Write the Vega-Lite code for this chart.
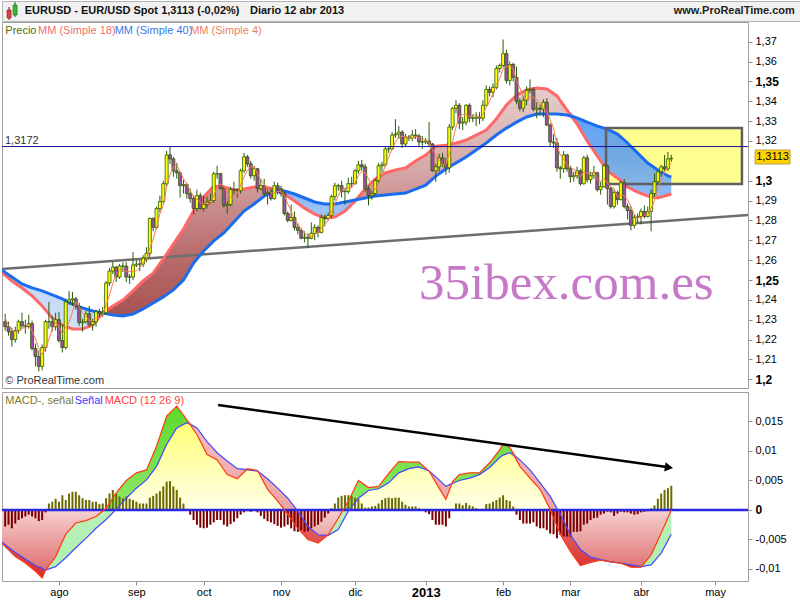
{
"$schema": "https://vega.github.io/schema/vega-lite/v6.json",
"padding": 0,
"background": "white",
"spacing": 1,
"bounds": "flush",
"config": {"font": "Liberation Sans", "view": {"stroke": "#a0a0a0"}, "axis": {"labelOverlap": false, "labelBound": false}},
"datasets": {
"c": [
{"i":-16,"o":1.2290,"h":1.2330,"l":1.2245,"c":1.2265,"m4":1.2309,"hs":-0.0028},
{"i":-15,"o":1.2265,"h":1.2290,"l":1.2220,"c":1.2240,"m4":1.2271,"hs":-0.0025},
{"i":-14,"o":1.2240,"h":1.2260,"l":1.2165,"c":1.2200,"m4":1.2249,"hs":-0.0031},
{"i":-13,"o":1.2200,"h":1.2265,"l":1.2185,"c":1.2245,"m4":1.2238,"hs":-0.0023},
{"i":-12,"o":1.2245,"h":1.2300,"l":1.2230,"c":1.2290,"m4":1.2244,"hs":-0.0017},
{"i":-11,"o":1.2290,"h":1.2335,"l":1.2255,"c":1.2270,"m4":1.2251,"hs":-0.0014},
{"i":-10,"o":1.2270,"h":1.2300,"l":1.2230,"c":1.2265,"m4":1.2268,"hs":-0.0011},
{"i":-9,"o":1.2265,"h":1.2325,"l":1.2255,"c":1.2280,"m4":1.2276,"hs":-0.0008},
{"i":-8,"o":1.2280,"h":1.2295,"l":1.2145,"c":1.2155,"m4":1.2243,"hs":-0.0011},
{"i":-7,"o":1.2155,"h":1.2180,"l":1.2065,"c":1.2115,"m4":1.2204,"hs":-0.0014},
{"i":-6,"o":1.2115,"h":1.2145,"l":1.2040,"c":1.2065,"m4":1.2154,"hs":-0.0019},
{"i":-5,"o":1.2065,"h":1.2175,"l":1.2045,"c":1.2160,"m4":1.2124,"hs":-0.0017},
{"i":-4,"o":1.2160,"h":1.2300,"l":1.2140,"c":1.2290,"m4":1.2158,"hs":-0.0004},
{"i":-3,"o":1.2290,"h":1.2390,"l":1.2255,"c":1.2290,"m4":1.2201,"hs":0.0011},
{"i":-2,"o":1.2290,"h":1.2320,"l":1.2240,"c":1.2265,"m4":1.2251,"hs":0.0014},
{"i":-1,"o":1.2265,"h":1.2335,"l":1.2245,"c":1.2300,"m4":1.2286,"hs":0.0019},
{"i":0,"o":1.2300,"h":1.2340,"l":1.2185,"c":1.2195,"m4":1.2263,"hs":0.0014},
{"i":1,"o":1.2195,"h":1.2275,"l":1.2135,"c":1.2160,"m4":1.2230,"hs":0.0025},
{"i":2,"o":1.2160,"h":1.2405,"l":1.2150,"c":1.2390,"m4":1.2261,"hs":0.0017},
{"i":3,"o":1.2390,"h":1.2445,"l":1.2375,"c":1.2400,"m4":1.2286,"hs":0.0028},
{"i":4,"o":1.2400,"h":1.2440,"l":1.2370,"c":1.2405,"m4":1.2339,"hs":0.0031},
{"i":5,"o":1.2405,"h":1.2415,"l":1.2350,"c":1.2365,"m4":1.2390,"hs":0.0031},
{"i":6,"o":1.2365,"h":1.2385,"l":1.2270,"c":1.2285,"m4":1.2364,"hs":0.0025},
{"i":7,"o":1.2285,"h":1.2305,"l":1.2240,"c":1.2290,"m4":1.2336,"hs":0.0020},
{"i":8,"o":1.2290,"h":1.2345,"l":1.2280,"c":1.2330,"m4":1.2318,"hs":0.0017},
{"i":9,"o":1.2330,"h":1.2370,"l":1.2265,"c":1.2275,"m4":1.2295,"hs":0.0017},
{"i":10,"o":1.2275,"h":1.2305,"l":1.2245,"c":1.2290,"m4":1.2296,"hs":0.0014},
{"i":11,"o":1.2290,"h":1.2350,"l":1.2265,"c":1.2340,"m4":1.2309,"hs":0.0014},
{"i":12,"o":1.2340,"h":1.2355,"l":1.2310,"c":1.2330,"m4":1.2309,"hs":0.0010},
{"i":13,"o":1.2330,"h":1.2365,"l":1.2315,"c":1.2335,"m4":1.2324,"hs":0.0011},
{"i":14,"o":1.2335,"h":1.2495,"l":1.2325,"c":1.2485,"m4":1.2373,"hs":0.0020},
{"i":15,"o":1.2485,"h":1.2560,"l":1.2470,"c":1.2545,"m4":1.2424,"hs":0.0028},
{"i":16,"o":1.2545,"h":1.2590,"l":1.2530,"c":1.2565,"m4":1.2483,"hs":0.0034},
{"i":17,"o":1.2565,"h":1.2570,"l":1.2490,"c":1.2515,"m4":1.2528,"hs":0.0028},
{"i":18,"o":1.2515,"h":1.2580,"l":1.2505,"c":1.2570,"m4":1.2549,"hs":0.0023},
{"i":19,"o":1.2570,"h":1.2590,"l":1.2540,"c":1.2570,"m4":1.2555,"hs":0.0020},
{"i":20,"o":1.2570,"h":1.2590,"l":1.2490,"c":1.2515,"m4":1.2543,"hs":0.0023},
{"i":21,"o":1.2515,"h":1.2530,"l":1.2480,"c":1.2515,"m4":1.2543,"hs":0.0019},
{"i":22,"o":1.2515,"h":1.2640,"l":1.2500,"c":1.2575,"m4":1.2544,"hs":0.0017},
{"i":23,"o":1.2575,"h":1.2600,"l":1.2565,"c":1.2580,"m4":1.2546,"hs":0.0014},
{"i":24,"o":1.2580,"h":1.2600,"l":1.2545,"c":1.2580,"m4":1.2563,"hs":0.0011},
{"i":25,"o":1.2580,"h":1.2625,"l":1.2565,"c":1.2610,"m4":1.2586,"hs":0.0011},
{"i":26,"o":1.2610,"h":1.2665,"l":1.2590,"c":1.2635,"m4":1.2601,"hs":0.0011},
{"i":27,"o":1.2635,"h":1.2815,"l":1.2615,"c":1.2810,"m4":1.2659,"hs":0.0021},
{"i":28,"o":1.2810,"h":1.2815,"l":1.2745,"c":1.2765,"m4":1.2705,"hs":0.0024},
{"i":29,"o":1.2765,"h":1.2870,"l":1.2755,"c":1.2860,"m4":1.2768,"hs":0.0028},
{"i":30,"o":1.2860,"h":1.2925,"l":1.2840,"c":1.2895,"m4":1.2833,"hs":0.0032},
{"i":31,"o":1.2895,"h":1.3000,"l":1.2880,"c":1.2985,"m4":1.2876,"hs":0.0040},
{"i":32,"o":1.2985,"h":1.3150,"l":1.2975,"c":1.3130,"m4":1.2968,"hs":0.0048},
{"i":33,"o":1.3130,"h":1.3172,"l":1.3085,"c":1.3110,"m4":1.3030,"hs":0.0049},
{"i":34,"o":1.3110,"h":1.3120,"l":1.3020,"c":1.3050,"m4":1.3069,"hs":0.0040},
{"i":35,"o":1.3050,"h":1.3090,"l":1.3010,"c":1.3040,"m4":1.3083,"hs":0.0034},
{"i":36,"o":1.3040,"h":1.3045,"l":1.2915,"c":1.2975,"m4":1.3044,"hs":0.0021},
{"i":37,"o":1.2975,"h":1.3005,"l":1.2935,"c":1.2980,"m4":1.3011,"hs":0.0011},
{"i":38,"o":1.2980,"h":1.2990,"l":1.2910,"c":1.2935,"m4":1.2983,"hs":0.0002},
{"i":39,"o":1.2935,"h":1.2960,"l":1.2890,"c":1.2910,"m4":1.2950,"hs":-0.0008},
{"i":40,"o":1.2910,"h":1.2925,"l":1.2830,"c":1.2860,"m4":1.2921,"hs":-0.0017},
{"i":41,"o":1.2860,"h":1.2955,"l":1.2845,"c":1.2925,"m4":1.2908,"hs":-0.0025},
{"i":42,"o":1.2925,"h":1.2940,"l":1.2855,"c":1.2860,"m4":1.2889,"hs":-0.0030},
{"i":43,"o":1.2860,"h":1.2925,"l":1.2845,"c":1.2880,"m4":1.2881,"hs":-0.0031},
{"i":44,"o":1.2880,"h":1.2920,"l":1.2860,"c":1.2890,"m4":1.2889,"hs":-0.0030},
{"i":45,"o":1.2890,"h":1.2935,"l":1.2880,"c":1.2900,"m4":1.2883,"hs":-0.0025},
{"i":46,"o":1.2900,"h":1.3045,"l":1.2890,"c":1.3035,"m4":1.2926,"hs":-0.0021},
{"i":47,"o":1.3035,"h":1.3075,"l":1.3010,"c":1.3035,"m4":1.2965,"hs":-0.0017},
{"i":48,"o":1.3035,"h":1.3040,"l":1.2955,"c":1.2960,"m4":1.2983,"hs":-0.0017},
{"i":49,"o":1.2960,"h":1.2970,"l":1.2865,"c":1.2875,"m4":1.2976,"hs":-0.0025},
{"i":50,"o":1.2875,"h":1.2895,"l":1.2835,"c":1.2880,"m4":1.2938,"hs":-0.0028},
{"i":51,"o":1.2880,"h":1.2970,"l":1.2870,"c":1.2955,"m4":1.2918,"hs":-0.0024},
{"i":52,"o":1.2955,"h":1.2995,"l":1.2930,"c":1.2955,"m4":1.2916,"hs":-0.0020},
{"i":53,"o":1.2955,"h":1.2960,"l":1.2915,"c":1.2950,"m4":1.2935,"hs":-0.0014},
{"i":54,"o":1.2950,"h":1.3060,"l":1.2935,"c":1.3050,"m4":1.2978,"hs":-0.0008},
{"i":55,"o":1.3050,"h":1.3140,"l":1.3040,"c":1.3120,"m4":1.3019,"hs":-0.0004},
{"i":56,"o":1.3120,"h":1.3130,"l":1.3070,"c":1.3085,"m4":1.3051,"hs":-0.0002},
{"i":57,"o":1.3085,"h":1.3100,"l":1.3010,"c":1.3025,"m4":1.3070,"hs":-0.0003},
{"i":58,"o":1.3025,"h":1.3075,"l":1.3000,"c":1.3060,"m4":1.3073,"hs":0.0000},
{"i":59,"o":1.3060,"h":1.3065,"l":1.2940,"c":1.2960,"m4":1.3033,"hs":-0.0004},
{"i":60,"o":1.2960,"h":1.3010,"l":1.2950,"c":1.2975,"m4":1.3005,"hs":-0.0010},
{"i":61,"o":1.2975,"h":1.3010,"l":1.2925,"c":1.2935,"m4":1.2983,"hs":-0.0015},
{"i":62,"o":1.2935,"h":1.2960,"l":1.2880,"c":1.2940,"m4":1.2953,"hs":-0.0019},
{"i":63,"o":1.2940,"h":1.2960,"l":1.2900,"c":1.2910,"m4":1.2940,"hs":-0.0021},
{"i":64,"o":1.2910,"h":1.2995,"l":1.2905,"c":1.2975,"m4":1.2940,"hs":-0.0024},
{"i":65,"o":1.2975,"h":1.2990,"l":1.2930,"c":1.2960,"m4":1.2946,"hs":-0.0027},
{"i":66,"o":1.2960,"h":1.2975,"l":1.2920,"c":1.2935,"m4":1.2945,"hs":-0.0030},
{"i":67,"o":1.2935,"h":1.2945,"l":1.2825,"c":1.2835,"m4":1.2926,"hs":-0.0028},
{"i":68,"o":1.2835,"h":1.2845,"l":1.2790,"c":1.2800,"m4":1.2883,"hs":-0.0025},
{"i":69,"o":1.2800,"h":1.2880,"l":1.2795,"c":1.2815,"m4":1.2846,"hs":-0.0031},
{"i":70,"o":1.2815,"h":1.2845,"l":1.2750,"c":1.2765,"m4":1.2804,"hs":-0.0036},
{"i":71,"o":1.2765,"h":1.2785,"l":1.2730,"c":1.2750,"m4":1.2783,"hs":-0.0037},
{"i":72,"o":1.2750,"h":1.2760,"l":1.2705,"c":1.2710,"m4":1.2760,"hs":-0.0034},
{"i":73,"o":1.2710,"h":1.2745,"l":1.2690,"c":1.2715,"m4":1.2735,"hs":-0.0037},
{"i":74,"o":1.2715,"h":1.2735,"l":1.2660,"c":1.2710,"m4":1.2721,"hs":-0.0036},
{"i":75,"o":1.2710,"h":1.2790,"l":1.2705,"c":1.2735,"m4":1.2718,"hs":-0.0031},
{"i":76,"o":1.2735,"h":1.2780,"l":1.2700,"c":1.2765,"m4":1.2731,"hs":-0.0028},
{"i":77,"o":1.2765,"h":1.2775,"l":1.2715,"c":1.2740,"m4":1.2738,"hs":-0.0025},
{"i":78,"o":1.2740,"h":1.2830,"l":1.2735,"c":1.2815,"m4":1.2764,"hs":-0.0020},
{"i":79,"o":1.2815,"h":1.2830,"l":1.2770,"c":1.2810,"m4":1.2783,"hs":-0.0013},
{"i":80,"o":1.2810,"h":1.2840,"l":1.2800,"c":1.2825,"m4":1.2798,"hs":-0.0006},
{"i":81,"o":1.2825,"h":1.2930,"l":1.2810,"c":1.2920,"m4":1.2843,"hs":0.0003},
{"i":82,"o":1.2920,"h":1.2990,"l":1.2900,"c":1.2975,"m4":1.2883,"hs":0.0011},
{"i":83,"o":1.2975,"h":1.2985,"l":1.2950,"c":1.2975,"m4":1.2924,"hs":0.0021},
{"i":84,"o":1.2975,"h":1.3000,"l":1.2915,"c":1.2945,"m4":1.2954,"hs":0.0024},
{"i":85,"o":1.2945,"h":1.2965,"l":1.2880,"c":1.2945,"m4":1.2960,"hs":0.0025},
{"i":86,"o":1.2945,"h":1.3015,"l":1.2935,"c":1.2985,"m4":1.2963,"hs":0.0025},
{"i":87,"o":1.2985,"h":1.3020,"l":1.2965,"c":1.2985,"m4":1.2965,"hs":0.0024},
{"i":88,"o":1.2985,"h":1.3060,"l":1.2980,"c":1.3050,"m4":1.2991,"hs":0.0021},
{"i":89,"o":1.3050,"h":1.3100,"l":1.3035,"c":1.3080,"m4":1.3025,"hs":0.0019},
{"i":90,"o":1.3080,"h":1.3105,"l":1.3050,"c":1.3070,"m4":1.3046,"hs":0.0011},
{"i":91,"o":1.3070,"h":1.3085,"l":1.2945,"c":1.2960,"m4":1.3040,"hs":0.0004},
{"i":92,"o":1.2960,"h":1.2975,"l":1.2875,"c":1.2925,"m4":1.3009,"hs":0.0004},
{"i":93,"o":1.2925,"h":1.2950,"l":1.2905,"c":1.2935,"m4":1.2973,"hs":0.0006},
{"i":94,"o":1.2935,"h":1.3010,"l":1.2925,"c":1.3000,"m4":1.2955,"hs":0.0007},
{"i":95,"o":1.3000,"h":1.3090,"l":1.2990,"c":1.3075,"m4":1.2984,"hs":0.0011},
{"i":96,"o":1.3075,"h":1.3095,"l":1.3040,"c":1.3080,"m4":1.3023,"hs":0.0017},
{"i":97,"o":1.3080,"h":1.3170,"l":1.3070,"c":1.3160,"m4":1.3079,"hs":0.0020},
{"i":98,"o":1.3160,"h":1.3175,"l":1.3140,"c":1.3160,"m4":1.3119,"hs":0.0021},
{"i":99,"o":1.3160,"h":1.3245,"l":1.3155,"c":1.3230,"m4":1.3158,"hs":0.0020},
{"i":100,"o":1.3230,"h":1.3310,"l":1.3215,"c":1.3235,"m4":1.3196,"hs":0.0021},
{"i":101,"o":1.3235,"h":1.3275,"l":1.3210,"c":1.3245,"m4":1.3218,"hs":0.0021},
{"i":102,"o":1.3245,"h":1.3255,"l":1.3165,"c":1.3185,"m4":1.3224,"hs":0.0014},
{"i":103,"o":1.3185,"h":1.3235,"l":1.3175,"c":1.3220,"m4":1.3221,"hs":0.0009},
{"i":104,"o":1.3220,"h":1.3230,"l":1.3200,"c":1.3215,"m4":1.3216,"hs":0.0006},
{"i":105,"o":1.3215,"h":1.3255,"l":1.3200,"c":1.3230,"m4":1.3213,"hs":0.0006},
{"i":106,"o":1.3230,"h":1.3260,"l":1.3210,"c":1.3225,"m4":1.3223,"hs":0.0006},
{"i":107,"o":1.3225,"h":1.3235,"l":1.3170,"c":1.3195,"m4":1.3216,"hs":0.0003},
{"i":108,"o":1.3195,"h":1.3225,"l":1.3160,"c":1.3195,"m4":1.3211,"hs":0.0000},
{"i":109,"o":1.3195,"h":1.3215,"l":1.3185,"c":1.3200,"m4":1.3204,"hs":-0.0004},
{"i":110,"o":1.3200,"h":1.3295,"l":1.3175,"c":1.3185,"m4":1.3194,"hs":-0.0007},
{"i":111,"o":1.3185,"h":1.3190,"l":1.3045,"c":1.3050,"m4":1.3158,"hs":-0.0017},
{"i":112,"o":1.3050,"h":1.3085,"l":1.2995,"c":1.3070,"m4":1.3126,"hs":-0.0025},
{"i":113,"o":1.3070,"h":1.3135,"l":1.3045,"c":1.3115,"m4":1.3105,"hs":-0.0025},
{"i":114,"o":1.3115,"h":1.3140,"l":1.3070,"c":1.3085,"m4":1.3080,"hs":-0.0025},
{"i":115,"o":1.3085,"h":1.3115,"l":1.3030,"c":1.3065,"m4":1.3084,"hs":-0.0028},
{"i":116,"o":1.3065,"h":1.3285,"l":1.3040,"c":1.3270,"m4":1.3134,"hs":-0.0014},
{"i":117,"o":1.3270,"h":1.3370,"l":1.3255,"c":1.3365,"m4":1.3196,"hs":0.0000},
{"i":118,"o":1.3365,"h":1.3405,"l":1.3340,"c":1.3380,"m4":1.3270,"hs":0.0011},
{"i":119,"o":1.3380,"h":1.3390,"l":1.3260,"c":1.3290,"m4":1.3326,"hs":0.0011},
{"i":120,"o":1.3290,"h":1.3320,"l":1.3255,"c":1.3295,"m4":1.3333,"hs":0.0008},
{"i":121,"o":1.3295,"h":1.3385,"l":1.3280,"c":1.3380,"m4":1.3336,"hs":0.0012},
{"i":122,"o":1.3380,"h":1.3390,"l":1.3295,"c":1.3315,"m4":1.3320,"hs":0.0008},
{"i":123,"o":1.3315,"h":1.3335,"l":1.3295,"c":1.3315,"m4":1.3326,"hs":0.0006},
{"i":124,"o":1.3315,"h":1.3345,"l":1.3275,"c":1.3320,"m4":1.3333,"hs":0.0003},
{"i":125,"o":1.3320,"h":1.3345,"l":1.3285,"c":1.3315,"m4":1.3316,"hs":0.0000},
{"i":126,"o":1.3315,"h":1.3405,"l":1.3300,"c":1.3380,"m4":1.3333,"hs":0.0002},
{"i":127,"o":1.3380,"h":1.3480,"l":1.3375,"c":1.3460,"m4":1.3369,"hs":0.0010},
{"i":128,"o":1.3460,"h":1.3475,"l":1.3425,"c":1.3445,"m4":1.3400,"hs":0.0011},
{"i":129,"o":1.3445,"h":1.3490,"l":1.3420,"c":1.3470,"m4":1.3439,"hs":0.0014},
{"i":130,"o":1.3470,"h":1.3580,"l":1.3460,"c":1.3565,"m4":1.3485,"hs":0.0017},
{"i":131,"o":1.3565,"h":1.3590,"l":1.3545,"c":1.3580,"m4":1.3515,"hs":0.0021},
{"i":132,"o":1.3580,"h":1.3711,"l":1.3570,"c":1.3640,"m4":1.3564,"hs":0.0025},
{"i":133,"o":1.3640,"h":1.3660,"l":1.3490,"c":1.3505,"m4":1.3573,"hs":0.0017},
{"i":134,"o":1.3505,"h":1.3600,"l":1.3480,"c":1.3585,"m4":1.3578,"hs":0.0015},
{"i":135,"o":1.3585,"h":1.3595,"l":1.3500,"c":1.3520,"m4":1.3563,"hs":0.0006},
{"i":136,"o":1.3520,"h":1.3575,"l":1.3385,"c":1.3400,"m4":1.3503,"hs":-0.0008},
{"i":137,"o":1.3400,"h":1.3415,"l":1.3350,"c":1.3365,"m4":1.3468,"hs":-0.0017},
{"i":138,"o":1.3365,"h":1.3425,"l":1.3345,"c":1.3405,"m4":1.3423,"hs":-0.0023},
{"i":139,"o":1.3405,"h":1.3475,"l":1.3380,"c":1.3455,"m4":1.3406,"hs":-0.0023},
{"i":140,"o":1.3455,"h":1.3510,"l":1.3440,"c":1.3460,"m4":1.3421,"hs":-0.0023},
{"i":141,"o":1.3460,"h":1.3470,"l":1.3350,"c":1.3360,"m4":1.3420,"hs":-0.0021},
{"i":142,"o":1.3360,"h":1.3395,"l":1.3315,"c":1.3365,"m4":1.3410,"hs":-0.0028},
{"i":143,"o":1.3365,"h":1.3385,"l":1.3330,"c":1.3360,"m4":1.3386,"hs":-0.0031},
{"i":144,"o":1.3360,"h":1.3410,"l":1.3320,"c":1.3395,"m4":1.3370,"hs":-0.0031},
{"i":145,"o":1.3395,"h":1.3415,"l":1.3275,"c":1.3280,"m4":1.3350,"hs":-0.0034},
{"i":146,"o":1.3280,"h":1.3290,"l":1.3175,"c":1.3195,"m4":1.3308,"hs":-0.0040},
{"i":147,"o":1.3195,"h":1.3235,"l":1.3165,"c":1.3190,"m4":1.3265,"hs":-0.0041},
{"i":148,"o":1.3190,"h":1.3215,"l":1.3045,"c":1.3065,"m4":1.3183,"hs":-0.0048},
{"i":149,"o":1.3065,"h":1.3075,"l":1.3010,"c":1.3060,"m4":1.3128,"hs":-0.0042},
{"i":150,"o":1.3060,"h":1.3150,"l":1.3040,"c":1.3130,"m4":1.3111,"hs":-0.0045},
{"i":151,"o":1.3130,"h":1.3135,"l":1.3045,"c":1.3060,"m4":1.3079,"hs":-0.0045},
{"i":152,"o":1.3060,"h":1.3075,"l":1.2990,"c":1.3020,"m4":1.3068,"hs":-0.0045},
{"i":153,"o":1.3020,"h":1.3045,"l":1.2995,"c":1.3025,"m4":1.3059,"hs":-0.0037},
{"i":154,"o":1.3025,"h":1.3070,"l":1.3010,"c":1.3050,"m4":1.3039,"hs":-0.0037},
{"i":155,"o":1.3050,"h":1.3060,"l":1.2975,"c":1.2985,"m4":1.3020,"hs":-0.0036},
{"i":156,"o":1.2985,"h":1.3125,"l":1.2980,"c":1.3115,"m4":1.3044,"hs":-0.0025},
{"i":157,"o":1.3115,"h":1.3130,"l":1.2990,"c":1.3005,"m4":1.3039,"hs":-0.0023},
{"i":158,"o":1.3005,"h":1.3045,"l":1.2985,"c":1.3025,"m4":1.3033,"hs":-0.0017},
{"i":159,"o":1.3025,"h":1.3075,"l":1.3010,"c":1.3040,"m4":1.3046,"hs":-0.0014},
{"i":160,"o":1.3040,"h":1.3045,"l":1.2945,"c":1.2955,"m4":1.3006,"hs":-0.0013},
{"i":161,"o":1.2955,"h":1.2995,"l":1.2930,"c":1.2970,"m4":1.2998,"hs":-0.0008},
{"i":162,"o":1.2970,"h":1.3085,"l":1.2965,"c":1.3075,"m4":1.3010,"hs":-0.0006},
{"i":163,"o":1.3075,"h":1.3080,"l":1.2880,"c":1.2960,"m4":1.2990,"hs":-0.0003},
{"i":164,"o":1.2960,"h":1.2970,"l":1.2860,"c":1.2870,"m4":1.2969,"hs":-0.0004},
{"i":165,"o":1.2870,"h":1.2955,"l":1.2860,"c":1.2940,"m4":1.2961,"hs":-0.0010},
{"i":166,"o":1.2940,"h":1.2950,"l":1.2880,"c":1.2905,"m4":1.2919,"hs":-0.0006},
{"i":167,"o":1.2905,"h":1.3000,"l":1.2900,"c":1.2990,"m4":1.2926,"hs":-0.0003},
{"i":168,"o":1.2990,"h":1.3010,"l":1.2860,"c":1.2870,"m4":1.2926,"hs":-0.0004},
{"i":169,"o":1.2870,"h":1.2885,"l":1.2805,"c":1.2850,"m4":1.2904,"hs":-0.0004},
{"i":170,"o":1.2850,"h":1.2870,"l":1.2750,"c":1.2775,"m4":1.2871,"hs":-0.0006},
{"i":171,"o":1.2775,"h":1.2830,"l":1.2760,"c":1.2815,"m4":1.2828,"hs":-0.0008},
{"i":172,"o":1.2815,"h":1.2835,"l":1.2790,"c":1.2820,"m4":1.2815,"hs":-0.0007},
{"i":173,"o":1.2820,"h":1.2860,"l":1.2780,"c":1.2845,"m4":1.2814,"hs":-0.0004},
{"i":174,"o":1.2845,"h":1.2875,"l":1.2810,"c":1.2820,"m4":1.2825,"hs":-0.0003},
{"i":175,"o":1.2820,"h":1.2870,"l":1.2815,"c":1.2845,"m4":1.2833,"hs":-0.0002},
{"i":176,"o":1.2845,"h":1.2955,"l":1.2745,"c":1.2935,"m4":1.2861,"hs":0.0003},
{"i":177,"o":1.2935,"h":1.3035,"l":1.2920,"c":1.2995,"m4":1.2899,"hs":0.0008},
{"i":178,"o":1.2995,"h":1.3050,"l":1.2985,"c":1.3045,"m4":1.2955,"hs":0.0019},
{"i":179,"o":1.3045,"h":1.3080,"l":1.3020,"c":1.3070,"m4":1.3011,"hs":0.0028},
{"i":180,"o":1.3070,"h":1.3130,"l":1.3050,"c":1.3060,"m4":1.3043,"hs":0.0034},
{"i":181,"o":1.3060,"h":1.3145,"l":1.3050,"c":1.3110,"m4":1.3071,"hs":0.0037},
{"i":182,"o":1.3110,"h":1.3130,"l":1.3095,"c":1.3113,"m4":1.3088,"hs":0.0041}
],
"ma": [
{"i":-17,"a":1.2539,"b":1.2550},{"i":-14,"a":1.2495,"b":1.2515},{"i":-11,"a":1.2460,"b":1.2480},{"i":-8,"a":1.2420,"b":1.2460},
{"i":-5,"a":1.2369,"b":1.2445},{"i":-2,"a":1.2309,"b":1.2425},{"i":1,"a":1.2274,"b":1.2405},{"i":4,"a":1.2253,"b":1.2379},
{"i":7,"a":1.2253,"b":1.2359},{"i":10,"a":1.2274,"b":1.2344},{"i":13,"a":1.2334,"b":1.2334},{"i":16,"a":1.2369,"b":1.2324},
{"i":19,"a":1.2399,"b":1.2319},{"i":22,"a":1.2445,"b":1.2329},{"i":25,"a":1.2495,"b":1.2354},{"i":28,"a":1.2535,"b":1.2384},
{"i":31,"a":1.2606,"b":1.2414},{"i":34,"a":1.2681,"b":1.2450},{"i":37,"a":1.2757,"b":1.2500},{"i":40,"a":1.2847,"b":1.2586},
{"i":43,"a":1.2918,"b":1.2646},{"i":46,"a":1.2973,"b":1.2697},{"i":49,"a":1.2968,"b":1.2737},{"i":52,"a":1.2953,"b":1.2792},
{"i":55,"a":1.2958,"b":1.2847},{"i":58,"a":1.2968,"b":1.2883},{"i":61,"a":1.2968,"b":1.2923},{"i":64,"a":1.2958,"b":1.2948},
{"i":67,"a":1.2933,"b":1.2948},{"i":70,"a":1.2898,"b":1.2933},{"i":73,"a":1.2862,"b":1.2913},{"i":76,"a":1.2832,"b":1.2893},
{"i":79,"a":1.2812,"b":1.2883},{"i":82,"a":1.2817,"b":1.2883},{"i":85,"a":1.2847,"b":1.2893},{"i":88,"a":1.2898,"b":1.2903},
{"i":91,"a":1.2958,"b":1.2913},{"i":94,"a":1.3009,"b":1.2923},{"i":97,"a":1.3039,"b":1.2928},{"i":100,"a":1.3054,"b":1.2933},
{"i":103,"a":1.3064,"b":1.2938},{"i":106,"a":1.3099,"b":1.2958},{"i":109,"a":1.3129,"b":1.2978},{"i":112,"a":1.3174,"b":1.3023},
{"i":115,"a":1.3179,"b":1.3059},{"i":118,"a":1.3189,"b":1.3089},{"i":121,"a":1.3205,"b":1.3119},{"i":124,"a":1.3230,"b":1.3155},
{"i":127,"a":1.3255,"b":1.3190},{"i":130,"a":1.3311,"b":1.3230},{"i":133,"a":1.3381,"b":1.3265},{"i":136,"a":1.3431,"b":1.3295},
{"i":139,"a":1.3457,"b":1.3321},{"i":142,"a":1.3467,"b":1.3336},{"i":145,"a":1.3462,"b":1.3336},{"i":148,"a":1.3427,"b":1.3336},
{"i":151,"a":1.3356,"b":1.3331},{"i":154,"a":1.3286,"b":1.3316},{"i":157,"a":1.3200,"b":1.3295},{"i":160,"a":1.3125,"b":1.3275},
{"i":163,"a":1.3049,"b":1.3260},{"i":166,"a":1.3014,"b":1.3235},{"i":169,"a":1.2968,"b":1.3190},{"i":172,"a":1.2943,"b":1.3139},
{"i":175,"a":1.2923,"b":1.3089},{"i":178,"a":1.2913,"b":1.3054},{"i":181,"a":1.2928,"b":1.3024},{"i":182,"a":1.2933,"b":1.3019}
],
"md": [
{"i":-17,"m":-0.0056,"s":-0.0054},{"i":-16,"m":-0.0062,"s":-0.0059},{"i":-13,"m":-0.0079,"s":-0.0072},{"i":-10,"m":-0.0090,"s":-0.0083},
{"i":-7,"m":-0.0104,"s":-0.0094},{"i":-5,"m":-0.0115,"s":-0.0099},{"i":-4,"m":-0.0102,"s":-0.0102},{"i":-1,"m":-0.0079,"s":-0.0096},
{"i":2,"m":-0.0041,"s":-0.0081},{"i":5,"m":-0.0022,"s":-0.0064},{"i":8,"m":-0.0018,"s":-0.0048},{"i":11,"m":-0.0011,"s":-0.0031},
{"i":14,"m":0.0003,"s":-0.0016},{"i":17,"m":0.0029,"s":0.0001},{"i":20,"m":0.0050,"s":0.0020},{"i":23,"m":0.0063,"s":0.0037},
{"i":26,"m":0.0068,"s":0.0051},{"i":29,"m":0.0108,"s":0.0074},{"i":32,"m":0.0159,"s":0.0111},{"i":35,"m":0.0176,"s":0.0139},
{"i":38,"m":0.0153,"s":0.0148},{"i":41,"m":0.0128,"s":0.0139},{"i":44,"m":0.0094,"s":0.0116},{"i":47,"m":0.0085,"s":0.0097},
{"i":50,"m":0.0060,"s":0.0083},{"i":53,"m":0.0053,"s":0.0070},{"i":56,"m":0.0070,"s":0.0068},{"i":59,"m":0.0067,"s":0.0066},
{"i":62,"m":0.0035,"s":0.0053},{"i":65,"m":0.0015,"s":0.0037},{"i":68,"m":-0.0007,"s":0.0020},{"i":71,"m":-0.0031,"s":-0.0002},
{"i":74,"m":-0.0050,"s":-0.0028},{"i":77,"m":-0.0056,"s":-0.0042},{"i":80,"m":-0.0042,"s":-0.0043},{"i":83,"m":-0.0014,"s":-0.0033},
{"i":86,"m":0.0015,"s":-0.0002},{"i":89,"m":0.0050,"s":0.0020},{"i":92,"m":0.0038,"s":0.0033},{"i":95,"m":0.0040,"s":0.0036},
{"i":98,"m":0.0062,"s":0.0046},{"i":101,"m":0.0082,"s":0.0063},{"i":104,"m":0.0081,"s":0.0070},{"i":107,"m":0.0081,"s":0.0073},
{"i":110,"m":0.0066,"s":0.0066},{"i":113,"m":0.0037,"s":0.0051},{"i":115,"m":0.0018,"s":0.0040},{"i":117,"m":0.0048,"s":0.0045},
{"i":119,"m":0.0060,"s":0.0050},{"i":122,"m":0.0063,"s":0.0054},{"i":125,"m":0.0063,"s":0.0060},{"i":128,"m":0.0080,"s":0.0072},
{"i":131,"m":0.0102,"s":0.0089},{"i":132,"m":0.0112,"s":0.0093},{"i":134,"m":0.0106,"s":0.0097},{"i":137,"m":0.0074,"s":0.0085},
{"i":140,"m":0.0054,"s":0.0068},{"i":143,"m":0.0035,"s":0.0046},{"i":146,"m":0.0001,"s":0.0023},{"i":149,"m":-0.0041,"s":-0.0007},
{"i":152,"m":-0.0070,"s":-0.0042},{"i":155,"m":-0.0094,"s":-0.0067},{"i":158,"m":-0.0089,"s":-0.0080},{"i":161,"m":-0.0085,"s":-0.0084},
{"i":164,"m":-0.0088,"s":-0.0088},{"i":167,"m":-0.0090,"s":-0.0090},{"i":170,"m":-0.0097,"s":-0.0093},{"i":173,"m":-0.0097,"s":-0.0096},
{"i":176,"m":-0.0076,"s":-0.0093},{"i":179,"m":-0.0039,"s":-0.0073},{"i":182,"m":0.0000,"s":-0.0041}
]
},
"vconcat": [
{
"width": 800, "height": 20,
"view": {"fill": "#f1f1f1", "stroke": "#b4b4b4"},
"layer": [
{"data": {"values": [{}]}, "mark": {"type": "rule", "color": "#7a1010", "strokeWidth": 1},
 "encoding": {"x": {"datum": 0.0088, "type": "quantitative", "scale": {"domain": [0, 1], "padding": 0}, "axis": null}, "y": {"datum": 0.7, "type": "quantitative", "scale": {"domain": [0, 1], "padding": 0}, "axis": null}, "y2": {"datum": 0.05}}},
{"data": {"values": [{}]}, "mark": {"type": "rect", "color": "#e04040", "stroke": "#7a1010", "strokeWidth": 0.6},
 "encoding": {"x": {"datum": 0.0063, "type": "quantitative"}, "x2": {"datum": 0.0113}, "y": {"datum": 0.55, "type": "quantitative"}, "y2": {"datum": 0.15}}},
{"data": {"values": [{}]}, "mark": {"type": "rule", "color": "#106010", "strokeWidth": 1},
 "encoding": {"x": {"datum": 0.0163, "type": "quantitative"}, "y": {"datum": 0.95, "type": "quantitative"}, "y2": {"datum": 0.2}}},
{"data": {"values": [{}]}, "mark": {"type": "rect", "color": "#30c030", "stroke": "#106010", "strokeWidth": 0.6},
 "encoding": {"x": {"datum": 0.0138, "type": "quantitative"}, "x2": {"datum": 0.0188}, "y": {"datum": 0.8, "type": "quantitative"}, "y2": {"datum": 0.3}}},
{"data": {"values": [{}]}, "mark": {"type": "text", "text": "EURUSD - EUR/USD Spot", "align": "left", "baseline": "middle", "fontWeight": "bold", "fontSize": 11, "color": "#111111"},
 "encoding": {"x": {"datum": 0.0284, "type": "quantitative"}, "y": {"datum": 0.5, "type": "quantitative"}}},
{"data": {"values": [{}]}, "mark": {"type": "text", "text": "1,3113 (-0,02%)", "align": "left", "baseline": "middle", "fontWeight": "bold", "fontSize": 11, "color": "#111111"},
 "encoding": {"x": {"datum": 0.199, "type": "quantitative"}, "y": {"datum": 0.5, "type": "quantitative"}}},
{"data": {"values": [{}]}, "mark": {"type": "text", "text": "Diario  12 abr 2013", "align": "left", "baseline": "middle", "fontWeight": "bold", "fontSize": 11, "color": "#111111"},
 "encoding": {"x": {"datum": 0.31, "type": "quantitative"}, "y": {"datum": 0.5, "type": "quantitative"}}},
{"data": {"values": [{}]}, "mark": {"type": "text", "text": "www.ProRealTime.com", "align": "right", "baseline": "middle", "fontWeight": "bold", "fontSize": 11, "color": "#222222"},
 "encoding": {"x": {"datum": 0.991, "type": "quantitative"}, "y": {"datum": 0.5, "type": "quantitative"}}}
]
},
{
"spacing": 4,
"bounds": "flush",
"vconcat": [
{
"width": 746, "height": 366,
"layer": [
{"data": {"values": [{}]}, "mark": {"type": "rect", "color": "#ffff90"},
 "encoding": {
  "x": {"datum": 162.6, "type": "quantitative", "scale": {"domain": [-16.94, 204.8], "nice": false, "zero": false, "padding": 0}, "axis": null},
  "x2": {"datum": 203.0},
  "y": {"datum": 1.3265, "type": "quantitative", "scale": {"domain": [1.19562, 1.37992], "nice": false, "zero": false, "padding": 0},
   "axis": {"orient": "right", "title": null, "grid": false, "labelOverlap": false, "tickCount": 18, "values": [1.2,1.21,1.22,1.23,1.24,1.25,1.26,1.27,1.28,1.29,1.3,1.32,1.33,1.34,1.35,1.36,1.37],
    "labelExpr": "replace(format(datum.value, '.2~f'), '.', ',')",
    "labelFontWeight": {"condition": {"test": "abs(datum.value * 20 - round(datum.value * 20)) < 0.01", "value": "bold"}, "value": "normal"},
    "labelFontSize": {"condition": {"test": "abs(datum.value * 20 - round(datum.value * 20)) < 0.01", "value": 12}, "value": 11},
    "labelColor": "#000000", "labelFont": "Liberation Sans", "tickSize": 4, "tickColor": "#909090", "domainColor": "#a0a0a0", "labelPadding": 3}},
  "y2": {"datum": 1.2983}}},
{"data": {"name": "ma"}, "transform": [{"fold": ["a", "b"], "as": ["k", "v"]}, {"aggregate": [{"op": "max", "field": "v", "as": "hi"}], "groupby": ["i", "a", "b"]}],
 "mark": {"type": "area", "clip": true, "color": {"gradient": "linear", "x1": 0, "y1": 0, "x2": 0, "y2": 1, "stops": [{"offset": 0, "color": "#e6cccc"}, {"offset": 0.35, "color": "#d6a8a8"}, {"offset": 0.7, "color": "#bb7070"}, {"offset": 1, "color": "#a85252"}]}},
 "encoding": {"x": {"field": "i", "type": "quantitative"}, "y": {"field": "b", "type": "quantitative"}, "y2": {"field": "hi"}}},
{"data": {"name": "ma"}, "transform": [{"fold": ["a", "b"], "as": ["k", "v"]}, {"aggregate": [{"op": "max", "field": "v", "as": "hi"}], "groupby": ["i", "a", "b"]}],
 "mark": {"type": "area", "clip": true, "fillOpacity": 0.85, "color": {"gradient": "linear", "x1": 0, "y1": 0, "x2": 0, "y2": 1, "stops": [{"offset": 0, "color": "#3a8af2"}, {"offset": 0.3, "color": "#5a9cf2"}, {"offset": 0.6, "color": "#9cc2f4"}, {"offset": 1, "color": "#c8dcf8"}]}},
 "encoding": {"x": {"field": "i", "type": "quantitative"}, "y": {"field": "a", "type": "quantitative"}, "y2": {"field": "hi"}}},
{"data": {"values": [{}]}, "mark": {"type": "rule", "color": "#6e6e6e", "strokeWidth": 2.5, "clip": true},
 "encoding": {"x": {"datum": -16.94, "type": "quantitative"}, "x2": {"datum": 204.8}, "y": {"datum": 1.2556, "type": "quantitative"}, "y2": {"datum": 1.2827}}},
{"data": {"name": "ma"}, "mark": {"type": "line", "color": "#ff6868", "strokeWidth": 3, "clip": true},
 "encoding": {"x": {"field": "i", "type": "quantitative"}, "y": {"field": "a", "type": "quantitative"}}},
{"data": {"name": "ma"}, "mark": {"type": "line", "color": "#1c6cf0", "strokeWidth": 3, "clip": true},
 "encoding": {"x": {"field": "i", "type": "quantitative"}, "y": {"field": "b", "type": "quantitative"}}},
{"data": {"values": [{}]}, "mark": {"type": "rect", "fillOpacity": 0, "stroke": "#606060", "strokeWidth": 2.5},
 "encoding": {"x": {"datum": 162.6, "type": "quantitative"}, "x2": {"datum": 203.0}, "y": {"datum": 1.3265, "type": "quantitative"}, "y2": {"datum": 1.2983}}},
{"data": {"name": "c"}, "mark": {"type": "rule", "color": "#2b5a08", "strokeWidth": 1},
 "encoding": {"x": {"field": "i", "type": "quantitative"}, "y": {"field": "l", "type": "quantitative"}, "y2": {"field": "h"}}},
{"data": {"name": "c"}, "mark": {"type": "bar", "size": 3, "stroke": "#2b5a08", "strokeWidth": 0.8},
 "encoding": {"x": {"field": "i", "type": "quantitative"}, "y": {"field": "o", "type": "quantitative"}, "y2": {"field": "c"},
  "fill": {"condition": {"test": "datum.c >= datum.o", "value": "#ffff00"}, "value": "#a04ca0"}}},
{"data": {"name": "c"}, "mark": {"type": "line", "color": "#ff7a52", "strokeWidth": 1, "clip": true},
 "encoding": {"x": {"field": "i", "type": "quantitative"}, "y": {"field": "m4", "type": "quantitative"}}},
{"data": {"values": [{}]}, "mark": {"type": "rule", "color": "#14149a", "strokeWidth": 1},
 "encoding": {"y": {"datum": 1.3172, "type": "quantitative"}}},
{"data": {"values": [{}]}, "mark": {"type": "text", "text": "1,3172", "align": "left", "baseline": "bottom", "dy": -1, "fontSize": 11, "color": "#333333"},
 "encoding": {"x": {"datum": -16.05, "type": "quantitative"}, "y": {"datum": 1.3172, "type": "quantitative"}}},
{"data": {"values": [{}]}, "mark": {"type": "text", "text": "35ibex.com.es", "align": "center", "baseline": "alphabetic", "font": "Liberation Serif", "fontSize": 51, "color": "#c878c8"},
 "encoding": {"x": {"datum": 150.8, "type": "quantitative"}, "y": {"datum": 1.2404, "type": "quantitative"}}},
{"data": {"values": [{}]}, "mark": {"type": "text", "text": "Precio", "align": "left", "baseline": "middle", "fontSize": 11, "color": "#4d6a10"},
 "encoding": {"x": {"datum": -15.96, "type": "quantitative"}, "y": {"datum": 1.3754, "type": "quantitative"}}},
{"data": {"values": [{}]}, "mark": {"type": "text", "text": "MM (Simple 18)", "align": "left", "baseline": "middle", "fontSize": 11, "color": "#f07070"},
 "encoding": {"x": {"datum": -6.24, "type": "quantitative"}, "y": {"datum": 1.3754, "type": "quantitative"}}},
{"data": {"values": [{}]}, "mark": {"type": "text", "text": "MM (Simple 40)", "align": "left", "baseline": "middle", "fontSize": 11, "color": "#3878e8"},
 "encoding": {"x": {"datum": 16.56, "type": "quantitative"}, "y": {"datum": 1.3754, "type": "quantitative"}}},
{"data": {"values": [{}]}, "mark": {"type": "text", "text": "MM (Simple 4)", "align": "left", "baseline": "middle", "fontSize": 11, "color": "#f08060"},
 "encoding": {"x": {"datum": 39.0, "type": "quantitative"}, "y": {"datum": 1.3754, "type": "quantitative"}}},
{"data": {"values": [{}]}, "mark": {"type": "text", "text": "© ProRealTime.com", "align": "left", "baseline": "middle", "fontSize": 11, "color": "#333333"},
 "encoding": {"x": {"datum": -15.96, "type": "quantitative"}, "y": {"datum": 1.1991, "type": "quantitative"}}},
{"data": {"values": [{}]}, "mark": {"type": "rect", "color": "#ffd200", "stroke": "#b8a050", "strokeWidth": 1},
 "encoding": {"x": {"datum": 206.9, "type": "quantitative"}, "x2": {"datum": 217.3}, "y": {"datum": 1.31546, "type": "quantitative"}, "y2": {"datum": 1.30841}}},
{"data": {"values": [{}]}, "mark": {"type": "text", "text": "1,3113", "align": "center", "baseline": "middle", "fontSize": 11, "color": "#000000"},
 "encoding": {"x": {"datum": 212.1, "type": "quantitative"}, "y": {"datum": 1.31194, "type": "quantitative"}}}
]
},
{
"width": 746, "height": 189,
"layer": [
{"data": {"name": "md"},
 "mark": {"type": "area", "clip": true, "color": {"gradient": "linear", "x1": 0, "y1": 0, "x2": 0, "y2": 1, "stops": [{"offset": 0, "color": "#ffff60"}, {"offset": 0.6, "color": "#ffffe8"}, {"offset": 0.606, "color": "#f6d0d0"}, {"offset": 1, "color": "#dc6464"}]}},
 "encoding": {
  "x": {"field": "i", "type": "quantitative", "scale": {"domain": [-16.94, 204.8], "nice": false, "zero": false, "padding": 0},
   "axis": {"orient": "bottom", "title": null, "grid": false, "domain": false, "values": [0,23,43,66,88,109,132,152,173,195],
    "labelExpr": "['ago','sep','oct','nov','dic','2013','feb','mar','abr','may'][indexof([0,23,43,66,88,109,132,152,173,195], datum.value)]",
    "labelFontWeight": {"condition": {"test": "datum.value == 109", "value": "bold"}, "value": "normal"},
    "labelFontSize": {"condition": {"test": "datum.value == 109", "value": 13}, "value": 11},
    "labelColor": "#000000", "labelFont": "Liberation Sans", "tickSize": 4, "tickColor": "#909090", "labelPadding": 1, "labelOverlap": false, "labelFlush": false}},
  "y": {"field": "m", "type": "quantitative", "scale": {"domain": [-0.012034, 0.02], "nice": false, "zero": false, "padding": 0},
   "axis": {"orient": "right", "title": null, "grid": false, "labelOverlap": false, "tickCount": 7, "values": [-0.01, -0.005, 0, 0.005, 0.01, 0.015],
    "labelExpr": "replace(replace(format(datum.value, '.3~f'), '.', ','), '\u2212', '-')",
    "labelFontWeight": {"condition": {"test": "datum.value == 0", "value": "bold"}, "value": "normal"},
    "labelFontSize": {"condition": {"test": "datum.value == 0", "value": 12}, "value": 11},
    "labelColor": "#000000", "labelFont": "Liberation Sans", "tickSize": 4, "tickColor": "#909090", "domainColor": "#a0a0a0", "labelPadding": 3}},
  "y2": {"datum": 0}}},
{"data": {"name": "md"}, "transform": [{"fold": ["m", "s"], "as": ["k", "v"]}, {"aggregate": [{"op": "max", "field": "v", "as": "hi"}], "groupby": ["i", "m", "s"]}],
 "mark": {"type": "area", "clip": true, "color": {"gradient": "linear", "x1": 0, "y1": 0, "x2": 0, "y2": 1, "stops": [{"offset": 0, "color": "#5ed82a"}, {"offset": 0.63, "color": "#8ee86a"}, {"offset": 0.636, "color": "#b8f0b8"}, {"offset": 1, "color": "#b0eeb0"}]}},
 "encoding": {"x": {"field": "i", "type": "quantitative"}, "y": {"field": "s", "type": "quantitative"}, "y2": {"field": "hi"}}},
{"data": {"name": "md"}, "transform": [{"fold": ["m", "s"], "as": ["k", "v"]}, {"aggregate": [{"op": "max", "field": "v", "as": "hi"}], "groupby": ["i", "m", "s"]}],
 "mark": {"type": "area", "clip": true, "color": {"gradient": "linear", "x1": 0, "y1": 0, "x2": 0, "y2": 1, "stops": [{"offset": 0, "color": "#f4c4c4"}, {"offset": 0.6, "color": "#eca4a4"}, {"offset": 0.606, "color": "#e87070"}, {"offset": 1, "color": "#d42c2c"}]}},
 "encoding": {"x": {"field": "i", "type": "quantitative"}, "y": {"field": "m", "type": "quantitative"}, "y2": {"field": "hi"}}},
{"data": {"name": "c"}, "mark": {"type": "bar", "size": 2},
 "encoding": {"x": {"field": "i", "type": "quantitative"}, "y": {"field": "hs", "type": "quantitative"}, "y2": {"datum": 0},
  "color": {"condition": {"test": "datum.hs >= 0", "value": "#6b6b00"}, "value": "#7a0000"}}},
{"data": {"values": [{}]}, "mark": {"type": "rule", "color": "#2828e0", "strokeWidth": 2.5},
 "encoding": {"y": {"datum": 0, "type": "quantitative"}}},
{"data": {"name": "md"}, "mark": {"type": "line", "color": "#4848ff", "strokeWidth": 1.2, "clip": true},
 "encoding": {"x": {"field": "i", "type": "quantitative"}, "y": {"field": "s", "type": "quantitative"}}},
{"data": {"name": "md"}, "mark": {"type": "line", "color": "#ff3a14", "strokeWidth": 1.2, "clip": true},
 "encoding": {"x": {"field": "i", "type": "quantitative"}, "y": {"field": "m", "type": "quantitative"}}},
{"data": {"values": [{}]}, "mark": {"type": "rule", "color": "#000000", "strokeWidth": 2.5},
 "encoding": {"x": {"datum": 47.3, "type": "quantitative"}, "x2": {"datum": 181.2}, "y": {"datum": 0.0178, "type": "quantitative"}, "y2": {"datum": 0.00725}}},
{"data": {"values": [{}]}, "mark": {"type": "point", "shape": "triangle-right", "filled": true, "color": "#000000", "size": 90, "angle": 8, "opacity": 1},
 "encoding": {"x": {"datum": 181.3, "type": "quantitative"}, "y": {"datum": 0.00722, "type": "quantitative"}}},
{"data": {"values": [{}]}, "mark": {"type": "text", "text": "MACD-, señal", "align": "left", "baseline": "middle", "fontSize": 11, "color": "#7a7a30"},
 "encoding": {"x": {"datum": -15.96, "type": "quantitative"}, "y": {"datum": 0.01847, "type": "quantitative"}}},
{"data": {"values": [{}]}, "mark": {"type": "text", "text": "Señal", "align": "left", "baseline": "middle", "fontSize": 11, "color": "#3a3aff"},
 "encoding": {"x": {"datum": 4.66, "type": "quantitative"}, "y": {"datum": 0.01847, "type": "quantitative"}}},
{"data": {"values": [{}]}, "mark": {"type": "text", "text": "MACD (12 26 9)", "align": "left", "baseline": "middle", "fontSize": 11, "color": "#ff4040"},
 "encoding": {"x": {"datum": 13.58, "type": "quantitative"}, "y": {"datum": 0.01847, "type": "quantitative"}}}
]
}
]
}
]
}
